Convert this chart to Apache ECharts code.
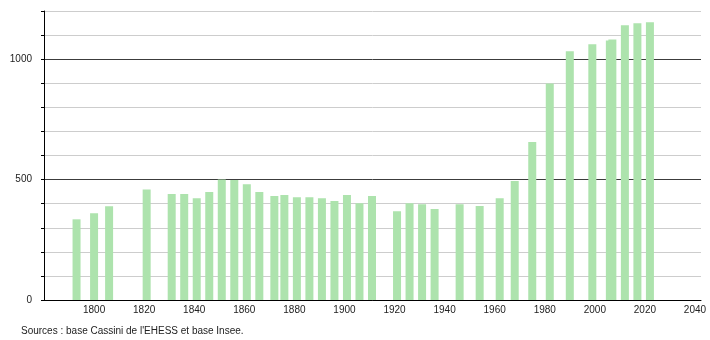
<!DOCTYPE html>
<html>
<head>
<meta charset="utf-8">
<script src="https://cdn.jsdelivr.net/npm/echarts@6/dist/echarts.min.js"></script>
<style>
html,body{margin:0;padding:0;background:#fff;}
#chart{width:710px;height:340px;}
</style>
</head>
<body>
<div id="chart"></div>
<script>
var years = [1793, 1800, 1806, 1821, 1831, 1836, 1841, 1846, 1851, 1856, 1861, 1866, 1872, 1876, 1881, 1886, 1891, 1896, 1901, 1906, 1911, 1921, 1926, 1931, 1936, 1946, 1954, 1962, 1968, 1975, 1982, 1990, 1999, 2006, 2007, 2012, 2017, 2022];
var population = [335, 360, 389, 459, 440, 440, 423, 448, 500, 498, 481, 448, 432, 436, 427, 427, 423, 411, 436, 402, 432, 369, 402, 398, 378, 398, 390, 423, 494, 656, 899, 1033, 1062, 1078, 1082, 1141, 1149, 1153];
var xTickLabels = ['1800', '1820', '1840', '1860', '1880', '1900', '1920', '1940', '1960', '1980', '2000', '2020', '2040'];
var yTickLabels = ['0', '500', '1000'];
var sourceText = "Sources : base Cassini de l'EHESS et base Insee.";

var chart = echarts.init(document.getElementById('chart'), null, {renderer: 'canvas'});
var dark = '#3c3c3c', light = '#cdcdcd';
var font = 'Liberation Sans, Arial, sans-serif';
chart.setOption({
  animation: false,
  backgroundColor: '#ffffff',
  grid: {left: 44, right: 9, top: 11, bottom: 40, containLabel: false},
  graphic: [{
    type: 'text', left: 21, top: 326,
    style: {text: sourceText, fill: '#222', font: '10px ' + font}
  }],
  xAxis: {
    type: 'value', min: 1780, max: 2042.4, interval: 20,
    axisLine: {show: true, lineStyle: {color: '#000', width: 1}},
    axisTick: {show: false},
    splitLine: {show: false},
    axisLabel: {
      color: '#222', fontSize: 10, fontFamily: font, margin: 5,
      showMinLabel: true, showMaxLabel: true,
      formatter: function (v) { var s = String(v); return xTickLabels.indexOf(s) >= 0 ? s : ''; }
    }
  },
  yAxis: {
    type: 'value', min: 0, max: 1200, interval: 100,
    axisLine: {show: true, lineStyle: {color: '#000', width: 1}},
    axisTick: {show: true, length: 3, lineStyle: {color: '#000'}},
    splitLine: {show: true, lineStyle: {color: [dark, light, light, light, light], width: 1}},
    axisLabel: {
      color: '#222', fontSize: 10, fontFamily: font, margin: 12,
      formatter: function (v) { var s = String(v); return yTickLabels.indexOf(s) >= 0 ? s : ''; }
    }
  },
  series: [{
    type: 'bar',
    barWidth: 8,
    itemStyle: {color: '#ade3ad'},
    data: years.map(function (y, i) { return [y, population[i]]; })
  }]
});
</script>
</body>
</html>
